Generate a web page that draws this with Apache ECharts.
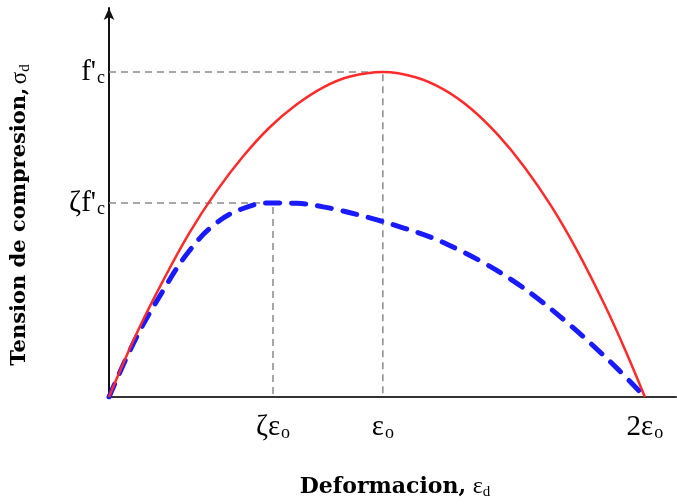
<!DOCTYPE html>
<html>
<head>
<meta charset="utf-8">
<script src="https://cdn.jsdelivr.net/npm/echarts@6/dist/echarts.min.js"></script>
<style>
  html, body { margin: 0; padding: 0; background: #fff; }
  #chart { width: 677px; height: 504px; }
</style>
</head>
<body>
<div id="chart"></div>
<script>
// strain in units of eps_o, stress in units of f'c
const strainRed = [0, 0.1, 0.2, 0.3, 0.4, 0.5, 0.6, 0.7, 0.8, 0.9, 1.022, 1.144, 1.25, 1.35, 1.45, 1.55, 1.65, 1.75, 1.85, 1.93, 2.0]
const stressRed = [0, 0.19, 0.355, 0.505, 0.632, 0.74, 0.83, 0.9, 0.953, 0.986, 1.0, 0.984, 0.946, 0.888, 0.808, 0.708, 0.588, 0.446, 0.283, 0.138, 0]

const strainBlue = [0, 0.1, 0.2, 0.3, 0.4, 0.5, 0.6, 0.7, 0.8, 0.9, 1.0, 1.1, 1.2, 1.3, 1.4, 1.5, 1.6, 1.7, 1.8, 1.9, 2.0]
const stressBlue = [0, 0.18, 0.325, 0.45, 0.535, 0.58, 0.597, 0.596, 0.585, 0.567, 0.545, 0.52, 0.492, 0.455, 0.412, 0.362, 0.303, 0.236, 0.163, 0.085, 0]

const xTickValues = [0.612, 1.022, 2.0]
const xTickLabels = ['ζε', 'ε', '2ε']
const yTickValues = [0.597, 1.0]
const yTickLabels = ['ζf\'', 'f\'']

const zip = (a, b) => a.map((v, i) => [v, b[i]])

function pick (values, labels, val) {
  for (let i = 0; i < values.length; i++) {
    if (Math.abs(values[i] - val) < 1e-6) return labels[i]
  }
  return ''
}

const serif = '"DejaVu Serif", serif'
const tickFont = '"Liberation Serif", serif'
const subRich = {
  m: { fontFamily: tickFont, fontSize: 29, color: '#000' },
  s: { fontFamily: tickFont, fontSize: 18, color: '#000', padding: [12, 0, 0, 1] }
}

// dashed guide lines: peak of each curve down to the axes
const guideStyle = { color: '#8a8a8a', width: 1.5, type: [7, 5] }
function guide (x, y) {
  return {
    type: 'line',
    data: [[0, y], [x, y], [x, 0]],
    symbol: 'none',
    silent: true,
    lineStyle: guideStyle,
    z: 1
  }
}

const chart = echarts.init(document.getElementById('chart'))
chart.setOption({
  animation: false,
  grid: { left: 109, right: 1, top: 8, bottom: 107 },
  xAxis: {
    type: 'value',
    min: 0,
    max: 2.116,
    splitLine: { show: false },
    axisLine: { lineStyle: { color: '#333', width: 2 } },
    axisTick: { show: false },
    axisLabel: {
      customValues: xTickValues,
      margin: 15,
      formatter: (v) => '{m|' + pick(xTickValues, xTickLabels, v) + '}{s|o}',
      rich: subRich
    }
  },
  yAxis: {
    type: 'value',
    min: 0,
    max: 1.197,
    splitLine: { show: false },
    axisLine: { symbol: ['none', 'arrow'], symbolSize: [8, 12], lineStyle: { color: '#111', width: 2 } },
    axisTick: { show: false },
    axisLabel: {
      customValues: yTickValues,
      margin: 4,
      formatter: (v) => '{m|' + pick(yTickValues, yTickLabels, v) + '}{s|c}',
      rich: subRich
    }
  },
  graphic: [
    {
      type: 'text',
      x: 395,
      y: 487,
      style: {
        text: '{t|Deformacion,}  {s|ε}{d|d}',
        align: 'center',
        verticalAlign: 'middle',
        rich: {
          t: { fontFamily: serif, fontWeight: 'bold', fontSize: 22, color: '#111' },
          s: { fontFamily: tickFont, fontSize: 24, color: '#111' },
          d: { fontFamily: tickFont, fontSize: 15, color: '#111', padding: [10, 0, 0, 0] }
        }
      }
    },
    {
      type: 'text',
      x: 20,
      y: 215,
      rotation: Math.PI / 2,
      style: {
        text: '{t|Tension de compresion,} {s|σ}{d|d}',
        align: 'center',
        verticalAlign: 'middle',
        rich: {
          t: { fontFamily: serif, fontWeight: 'bold', fontSize: 21, color: '#111' },
          s: { fontFamily: tickFont, fontSize: 23, color: '#111' },
          d: { fontFamily: tickFont, fontSize: 15, color: '#111', padding: [10, 0, 0, 0] }
        }
      }
    }
  ],
  series: [
    guide(xTickValues[1], yTickValues[1]),
    guide(xTickValues[0], yTickValues[0]),
    {
      type: 'line',
      data: zip(strainBlue, stressBlue),
      smooth: 0.4,
      symbol: 'none',
      lineStyle: { color: '#1a1aff', width: 5, type: [14, 12], cap: 'round' },
      z: 3
    },
    {
      type: 'line',
      data: zip(strainRed, stressRed),
      smooth: 0.4,
      symbol: 'none',
      lineStyle: { color: '#ff2a2a', width: 2.5 },
      z: 4
    }
  ]
})
</script>
</body>
</html>
